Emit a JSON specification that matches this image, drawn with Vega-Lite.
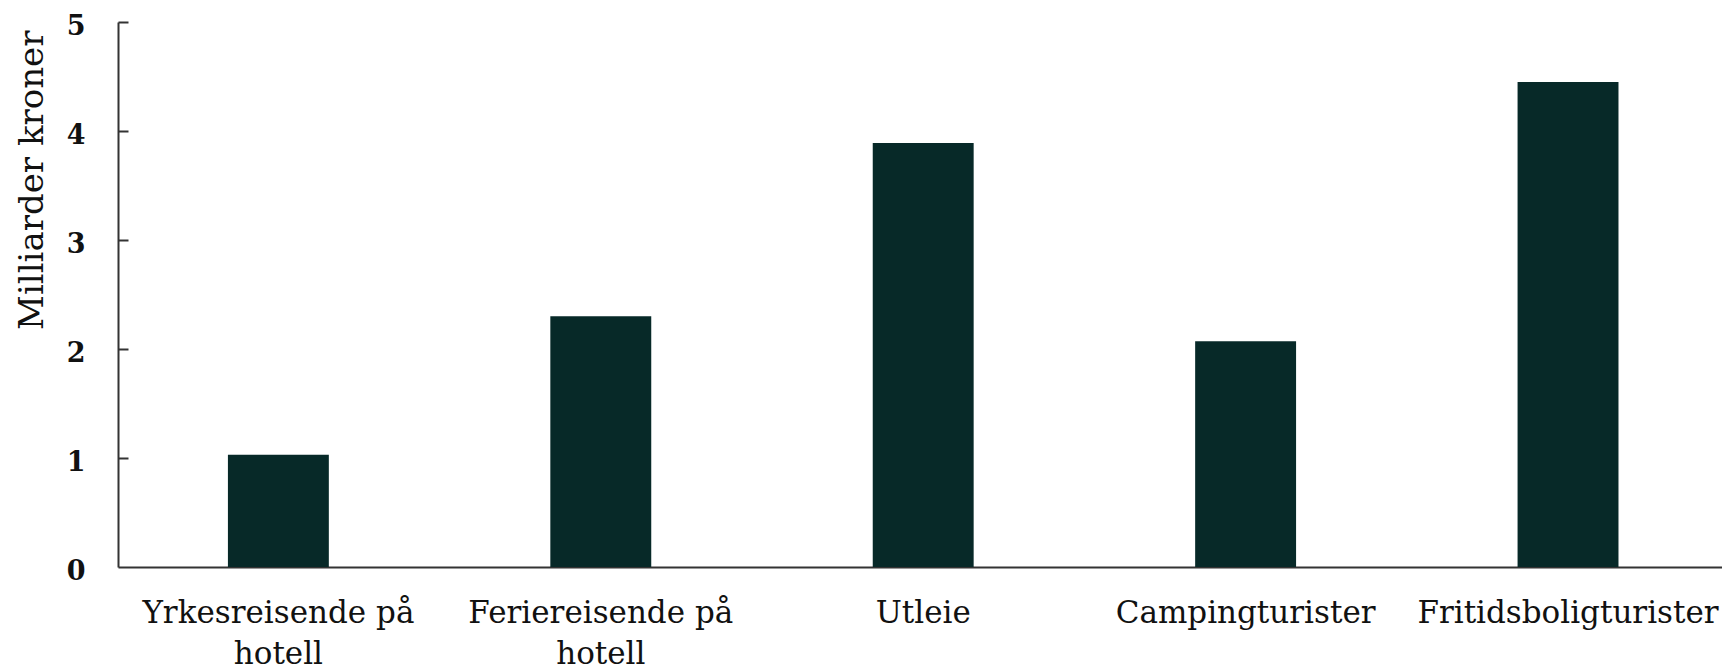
{
  "$schema": "https://vega.github.io/schema/vega-lite/v6.json",
  "autosize": {"type": "none"},
  "padding": {"left": 118, "top": 22, "right": 0, "bottom": 105},
  "width": 1604,
  "height": 545,
  "data": {
    "values": [
      {"kategori": "Yrkesreisende på hotell", "verdi": 1.03},
      {"kategori": "Feriereisende på hotell", "verdi": 2.30},
      {"kategori": "Utleie", "verdi": 3.89},
      {"kategori": "Campingturister", "verdi": 2.07},
      {"kategori": "Fritidsboligturister", "verdi": 4.45}
    ]
  },
  "encoding": {
    "x": {
      "field": "kategori",
      "type": "nominal",
      "sort": null,
      "scale": {"paddingInner": 0.687, "paddingOuter": 0.331, "align": 0.515},
      "axis": {
        "title": null,
        "ticks": false,
        "labelAngle": 0,
        "labelPadding": 31,
        "labelFont": "DejaVu Serif",
        "labelFontSize": 31,
        "labelColor": "#111111",
        "labelLineHeight": 41,
        "labelBaseline": "top",
        "labelLimit": 500,
        "labelExpr": "split(replace(datum.label, ' på ', ' på|'), '|')",
        "domainColor": "#333333",
        "domainWidth": 2
      }
    }
  },
  "layer": [
    {
      "mark": {"type": "bar", "color": "#072928"},
      "encoding": {
        "y": {
          "field": "verdi",
          "type": "quantitative",
          "scale": {"domain": [0, 5], "nice": false},
          "axis": {
            "title": "Milliarder kroner",
            "titleFont": "DejaVu Serif",
            "titleFontSize": 34,
            "titleFontWeight": "normal",
            "titleColor": "#111111",
            "titleAngle": -90,
            "titleAlign": "right",
            "titleBaseline": "middle",
            "titleX": -86,
            "titleY": 8,
            "values": [0, 1, 2, 3, 4, 5],
            "grid": false,
            "ticks": false,
            "labelPadding": 33,
            "labelOffset": 4,
            "labelFont": "DejaVu Serif",
            "labelFontSize": 27,
            "labelFontWeight": "bold",
            "labelColor": "#111111",
            "domainColor": "#333333",
            "domainWidth": 2
          }
        }
      }
    },
    {
      "mark": {"type": "bar", "opacity": 0},
      "encoding": {
        "y": {
          "field": "verdi",
          "type": "quantitative",
          "scale": {"domain": [0, 5], "nice": false},
          "axis": {
            "orient": "right",
            "offset": -1604,
            "title": null,
            "values": [1, 2, 3, 4, 5],
            "grid": false,
            "labels": false,
            "domain": false,
            "ticks": true,
            "tickSize": 10,
            "tickWidth": 2,
            "tickColor": "#333333"
          }
        }
      }
    }
  ],
  "resolve": {"axis": {"y": "independent"}},
  "config": {"view": {"stroke": null}}
}
